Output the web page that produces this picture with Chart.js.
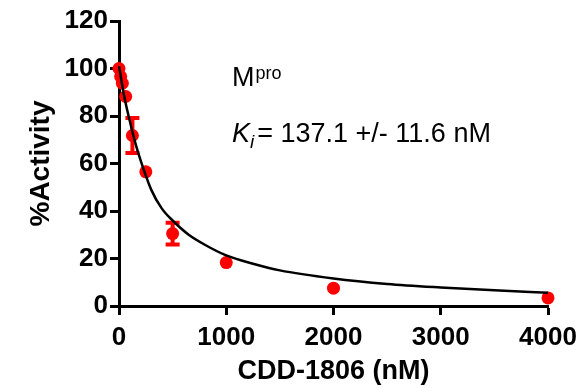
<!DOCTYPE html>
<html>
<head>
<meta charset="utf-8">
<script src="https://cdn.jsdelivr.net/npm/chart.js@4.4.1/dist/chart.umd.min.js"></script>
<style>
  html, body { margin: 0; padding: 0; background: #fff; }
  #wrap { width: 585px; height: 388px; position: relative; }
</style>
</head>
<body>
<div id="wrap"><canvas id="c" width="585" height="388"></canvas></div>
<script>
// Measured data: concentration (nM), % activity, error (SD)
const concentrations = [0, 15.6, 31.25, 62.5, 125, 250, 500, 1000, 2000, 4000];
const activity       = [100, 96.6, 93.8, 88.2, 71.8, 56.5, 30.5, 18.3, 7.5, 3.4];
const errors         = [0, 0, 0, 0, 7.4, 0, 4.6, 0, 0, 0];

// Fitted curve
const fitX = [0, 50, 100, 150, 200, 300, 400, 500, 650, 800, 1000, 1250, 1500, 2000, 2500, 3000, 3500, 4000];
const fitY = [101, 88, 78, 69, 61.5, 49, 41, 36, 30, 25.8, 21.3, 17.8, 15, 11.6, 9.3, 7.8, 6.6, 5.6];

// Axis ticks
const xTicks = [0, 1000, 2000, 3000, 4000];
const yTicks = [0, 20, 40, 60, 80, 100, 120];

const FONT = "'Liberation Sans', Arial, sans-serif";

const errorBarPlugin = {
  id: 'errorBars',
  beforeDatasetsDraw(chart) {
    const ctx = chart.ctx;
    const xs = chart.scales.x, ys = chart.scales.y;
    ctx.save();
    ctx.strokeStyle = '#ff0000';
    ctx.lineWidth = 4;
    for (let i = 0; i < concentrations.length; i++) {
      if (!errors[i]) continue;
      const px = xs.getPixelForValue(concentrations[i]);
      const top = ys.getPixelForValue(activity[i] + errors[i]);
      const bot = ys.getPixelForValue(activity[i] - errors[i]);
      ctx.beginPath();
      ctx.moveTo(px, top); ctx.lineTo(px, bot);
      ctx.moveTo(px - 7, top); ctx.lineTo(px + 7, top);
      ctx.moveTo(px - 7, bot); ctx.lineTo(px + 7, bot);
      ctx.stroke();
    }
    ctx.restore();
  }
};

const annotationPlugin = {
  id: 'annotations',
  afterDraw(chart) {
    const ctx = chart.ctx;
    ctx.save();
    ctx.fillStyle = '#000';
    ctx.textBaseline = 'alphabetic';
    // M^pro
    ctx.font = "27px " + FONT;
    ctx.fillText('M', 232, 86);
    let w = ctx.measureText('M').width;
    ctx.font = "18px " + FONT;
    ctx.fillText('pro', 232 + w + 1, 79);
    // K_i = ...
    ctx.font = "italic 27px " + FONT;
    ctx.fillText('K', 232, 142);
    w = ctx.measureText('K').width;
    ctx.font = "italic 19px " + FONT;
    ctx.fillText('i', 232 + w, 148);
    const wi = ctx.measureText('i').width;
    ctx.font = "27px " + FONT;
    ctx.fillText('= 137.1 +/- 11.6 nM', 232 + w + wi + 3, 142);
    ctx.restore();
  }
};

new Chart(document.getElementById('c'), {
  type: 'scatter',
  data: {
    datasets: [
      {
        label: 'fit',
        data: fitX.map((x, i) => ({ x: x, y: fitY[i] })),
        showLine: true,
        borderColor: '#000',
        borderWidth: 2.5,
        pointRadius: 0,
        cubicInterpolationMode: 'monotone',
        clip: false
      },
      {
        label: 'data',
        data: concentrations.map((x, i) => ({ x: x, y: activity[i] })),
        backgroundColor: '#ff0000',
        borderColor: '#ff0000',
        pointRadius: 6.5,
        borderWidth: 0,
        clip: false
      }
    ]
  },
  options: {
    responsive: false,
    animation: false,
    layout: { padding: { top: 21, right: 37, left: 0, bottom: 0 } },
    plugins: { legend: { display: false }, tooltip: { enabled: false } },
    scales: {
      x: {
        type: 'linear',
        min: 0, max: 4000,
        afterFit(s) { s.height = 82; },
        afterBuildTicks(s) { s.ticks = xTicks.map(v => ({ value: v })); },
        border: { display: true, color: '#000', width: 3 },
        grid: { display: true, drawOnChartArea: false, drawTicks: true, tickLength: 9, tickWidth: 3, tickColor: '#000' },
        ticks: { color: '#000', font: { family: FONT, size: 26, weight: 'bold' }, padding: 7, maxRotation: 0, callback: v => String(v) },
        title: { display: true, text: 'CDD-1806 (nM)', color: '#000', font: { family: FONT, size: 27, weight: 'bold' }, padding: { top: 0, bottom: 0 } }
      },
      y: {
        type: 'linear',
        min: 0, max: 120,
        afterFit(s) { s.width = 119; },
        afterBuildTicks(s) { s.ticks = yTicks.map(v => ({ value: v })); },
        border: { display: true, color: '#000', width: 3 },
        grid: { display: true, drawOnChartArea: false, drawTicks: true, tickLength: 9, tickWidth: 3, tickColor: '#000' },
        ticks: { color: '#000', font: { family: FONT, size: 26, weight: 'bold' }, padding: 2, callback: v => String(v) },
        title: { display: true, text: '%Activity', color: '#000', font: { family: FONT, size: 28, weight: 'bold' }, padding: { top: 24, bottom: 0 } }
      }
    }
  },
  plugins: [errorBarPlugin, annotationPlugin]
});
</script>
</body>
</html>
